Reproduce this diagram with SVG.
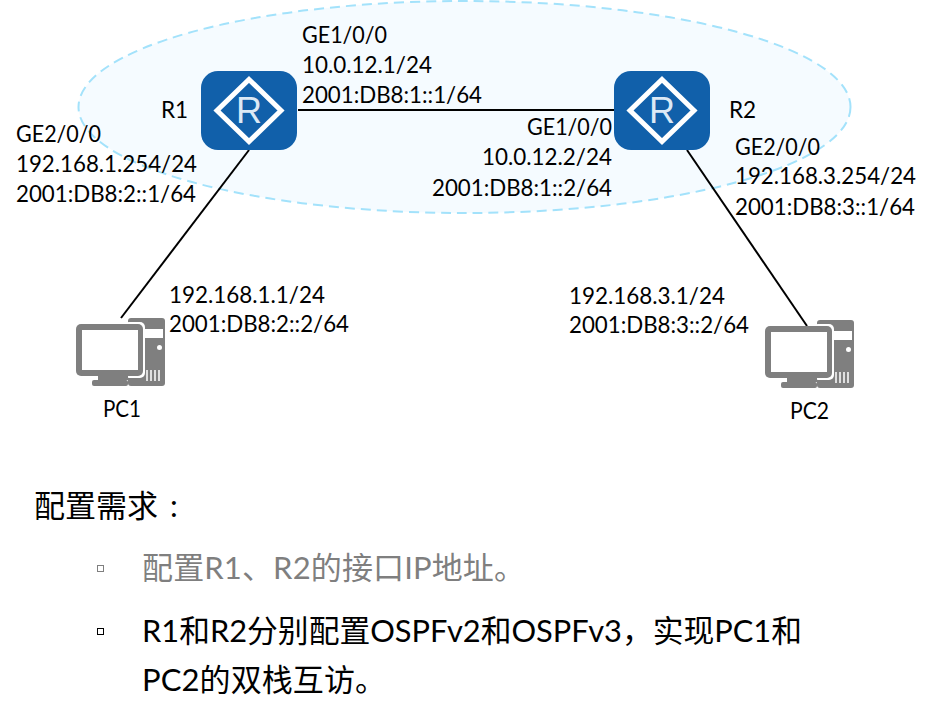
<svg xmlns="http://www.w3.org/2000/svg" width="946" height="722" viewBox="0 0 946 722">
<style>
text{font-family:Lato,"Noto Sans CJK SC",sans-serif;fill:#000}
.s{font-size:22.500px}
.b{font-size:31px}
.g{fill:#7f7f7f}
.r{fill:#1160aa}
.c{stroke:#000;stroke-width:2;fill:none}
.i{fill:#7f7f7f}
</style>
<defs>
<g id="router">
<rect x="0" y="0" width="96" height="79" rx="17" class="r"/>
<path d="M48 8.500L80 39.500L48 70.500L16 39.500Z" fill="none" stroke="#fff" stroke-width="5"/>
<text x="48" y="52" text-anchor="middle" style="font-family:'Liberation Sans',sans-serif;font-size:36px;fill:#dce9f5">R</text>
</g>
<g id="pc">
<rect x="128" y="318" width="37" height="68" rx="3" class="i"/>
<rect x="144" y="329" width="19" height="9" fill="#fff"/>
<circle cx="159.500" cy="347.500" r="2.500" fill="#fff"/>
<path d="M147 370v11M151 370v11M155 370v11M159 370v11" stroke="#fff" stroke-width="1.500"/>
<rect x="124" y="322" width="21" height="56" rx="5" fill="#fff"/>
<rect x="76" y="324" width="67" height="52" rx="5" class="i"/>
<rect x="82" y="330" width="56" height="40" fill="#fff"/>
<rect x="98" y="376" width="30" height="4" class="i"/>
<rect x="92" y="380" width="36" height="6" rx="2" class="i"/>
</g>
</defs>
<ellipse cx="464.500" cy="107" rx="386" ry="106" fill="#f5fbff" stroke="#a3e2fb" stroke-width="2" stroke-dasharray="10 6"/>
<g id="connectors">
<path class="c" d="M298 110H614"/>
<path class="c" d="M249 150L121 318"/>
<path class="c" d="M687 150L807 326"/>
</g>
<g id="R1"><use href="#router" x="201" y="71"/><text class="s" x="161" y="118">R1</text></g>
<g id="R2"><use href="#router" x="614" y="71"/><text class="s" x="729" y="118">R2</text></g>
<g id="PC1"><use href="#pc"/><text class="s" x="103" y="417" textLength="38" lengthAdjust="spacingAndGlyphs">PC1</text></g>
<g id="PC2"><use href="#pc" x="689" y="2"/><text class="s" x="790" y="419" textLength="39" lengthAdjust="spacingAndGlyphs">PC2</text></g>
<g id="labels" class="s">
<text x="302" y="43" textLength="85" lengthAdjust="spacingAndGlyphs">GE1/0/0</text>
<text x="302" y="73" textLength="130" lengthAdjust="spacingAndGlyphs">10.0.12.1/24</text>
<text x="302" y="103" textLength="180" lengthAdjust="spacingAndGlyphs">2001:DB8:1::1/64</text>
<text x="527" y="135" textLength="85" lengthAdjust="spacingAndGlyphs">GE1/0/0</text>
<text x="482" y="165" textLength="130" lengthAdjust="spacingAndGlyphs">10.0.12.2/24</text>
<text x="432" y="196" textLength="180" lengthAdjust="spacingAndGlyphs">2001:DB8:1::2/64</text>
<text x="16" y="142" textLength="85" lengthAdjust="spacingAndGlyphs">GE2/0/0</text>
<text x="16" y="172" textLength="181" lengthAdjust="spacingAndGlyphs">192.168.1.254/24</text>
<text x="16" y="202" textLength="180" lengthAdjust="spacingAndGlyphs">2001:DB8:2::1/64</text>
<text x="735" y="155" textLength="85" lengthAdjust="spacingAndGlyphs">GE2/0/0</text>
<text x="735" y="184" textLength="181" lengthAdjust="spacingAndGlyphs">192.168.3.254/24</text>
<text x="735" y="215" textLength="180" lengthAdjust="spacingAndGlyphs">2001:DB8:3::1/64</text>
<text x="169" y="303" textLength="156" lengthAdjust="spacingAndGlyphs">192.168.1.1/24</text>
<text x="169" y="332" textLength="180" lengthAdjust="spacingAndGlyphs">2001:DB8:2::2/64</text>
<text x="569" y="304" textLength="156" lengthAdjust="spacingAndGlyphs">192.168.3.1/24</text>
<text x="569" y="333" textLength="180" lengthAdjust="spacingAndGlyphs">2001:DB8:3::2/64</text>
</g>
<g id="requirements" class="b">
<text x="34" y="517">配置需求<tspan dx="12">:</tspan></text>
<rect x="97.500" y="565.500" width="6" height="6" fill="none" stroke="#7f7f7f" stroke-width="1"/>
<text class="g" x="142" y="579" textLength="383">配置R1、R2的接口IP地址。</text>
<rect x="97.500" y="628.500" width="6" height="6" fill="none" stroke="#000" stroke-width="1"/>
<text x="142" y="642" textLength="660" lengthAdjust="spacingAndGlyphs">R1和R2分别配置OSPFv2和OSPFv3&#xFF0C;实现PC1和</text>
<text x="142" y="691" textLength="244">PC2的双栈互访。</text>
</g>
</svg>
